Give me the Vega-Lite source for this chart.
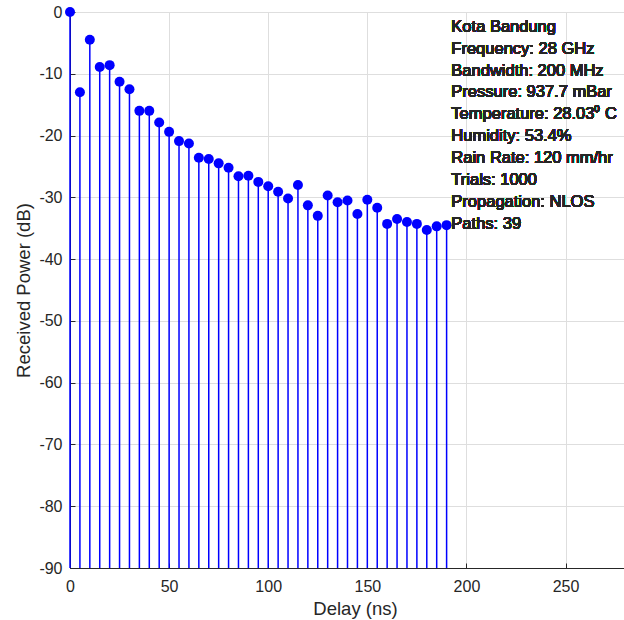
{
  "$schema": "https://vega.github.io/schema/vega-lite/v6.json",
  "width": 555,
  "height": 556,
  "autosize": {"type": "none"},
  "padding": {"left": 70, "top": 12, "right": 0, "bottom": 52},
  "background": "white",
  "config": {
    "view": {"stroke": "#262626", "strokeWidth": 1},
    "font": "Liberation Sans",
    "axis": {
      "domainColor": "#262626",
      "domainWidth": 1,
      "tickColor": "#262626",
      "tickSize": -5,
      "tickWidth": 1,
      "labelFont": "Liberation Sans",
      "labelFontSize": 16,
      "labelColor": "#262626",
      "labelFlush": false,
      "labelExpr": "replace(datum.label, '−', '-')",
      "titleFont": "Liberation Sans",
      "titleFontSize": 18.5,
      "titleFontWeight": "normal",
      "titleColor": "#262626",
      "gridColor": "#dedede",
      "gridWidth": 1
    }
  },
  "data": {
    "values": [
      {"delay": 0, "power": 0},
      {"delay": 5, "power": -13.0},
      {"delay": 10, "power": -4.5},
      {"delay": 15, "power": -8.9},
      {"delay": 20, "power": -8.6},
      {"delay": 25, "power": -11.3},
      {"delay": 30, "power": -12.5},
      {"delay": 35, "power": -16.0},
      {"delay": 40, "power": -16.0},
      {"delay": 45, "power": -17.9},
      {"delay": 50, "power": -19.4},
      {"delay": 55, "power": -20.9},
      {"delay": 60, "power": -21.3},
      {"delay": 65, "power": -23.6},
      {"delay": 70, "power": -23.8},
      {"delay": 75, "power": -24.5},
      {"delay": 80, "power": -25.2},
      {"delay": 85, "power": -26.6},
      {"delay": 90, "power": -26.5},
      {"delay": 95, "power": -27.5},
      {"delay": 100, "power": -28.2},
      {"delay": 105, "power": -29.1},
      {"delay": 110, "power": -30.2},
      {"delay": 115, "power": -28.0},
      {"delay": 120, "power": -31.3},
      {"delay": 125, "power": -33.0},
      {"delay": 130, "power": -29.7},
      {"delay": 135, "power": -30.8},
      {"delay": 140, "power": -30.5},
      {"delay": 145, "power": -32.7},
      {"delay": 150, "power": -30.4},
      {"delay": 155, "power": -31.7},
      {"delay": 160, "power": -34.3},
      {"delay": 165, "power": -33.5},
      {"delay": 170, "power": -34.0},
      {"delay": 175, "power": -34.3},
      {"delay": 180, "power": -35.3},
      {"delay": 185, "power": -34.7},
      {"delay": 190, "power": -34.5}
    ]
  },
  "layer": [
    {
      "mark": {"type": "rule", "color": "#0000ff", "strokeWidth": 1.5},
      "encoding": {
        "x": {
          "field": "delay",
          "type": "quantitative",
          "scale": {"domain": [0, 280], "nice": false, "zero": false},
          "axis": {
            "title": "Delay (ns)",
            "values": [0, 50, 100, 150, 200, 250],
            "grid": true,
            "labelPadding": 15,
            "titlePadding": 5,
            "titleX": 285
          }
        },
        "y": {
          "field": "power",
          "type": "quantitative",
          "scale": {"domain": [-90, 0], "nice": false, "zero": false},
          "axis": {
            "title": "Received Power (dB)",
            "values": [-90, -80, -70, -60, -50, -40, -30, -20, -10, 0],
            "grid": true,
            "labelPadding": 13,
            "titlePadding": 5
          }
        },
        "y2": {"datum": -90}
      }
    },
    {
      "mark": {"type": "circle", "color": "#0000ff", "size": 100, "opacity": 1},
      "encoding": {
        "x": {"field": "delay", "type": "quantitative"},
        "y": {"field": "power", "type": "quantitative"}
      }
    },
    {
      "mark": {
        "type": "text",
        "align": "left",
        "baseline": "alphabetic",
        "font": "Liberation Sans",
        "fontSize": 16.5,
        "fontWeight": "normal",
        "lineHeight": 21.9,
        "color": "#262626",
        "text": [
          "Kota Bandung",
          "Frequency: 28 GHz",
          "Bandwidth: 200 MHz",
          "Pressure: 937.7 mBar",
          "Temperature: 28.03⁰ C",
          "Humidity: 53.4%",
          "Rain Rate: 120 mm/hr",
          "Trials: 1000",
          "Propagation: NLOS",
          "Paths: 39"
        ]
      },
      "encoding": {
        "x": {"datum": 192.4},
        "y": {"datum": -3.2}
      }
    }
  ]
}
